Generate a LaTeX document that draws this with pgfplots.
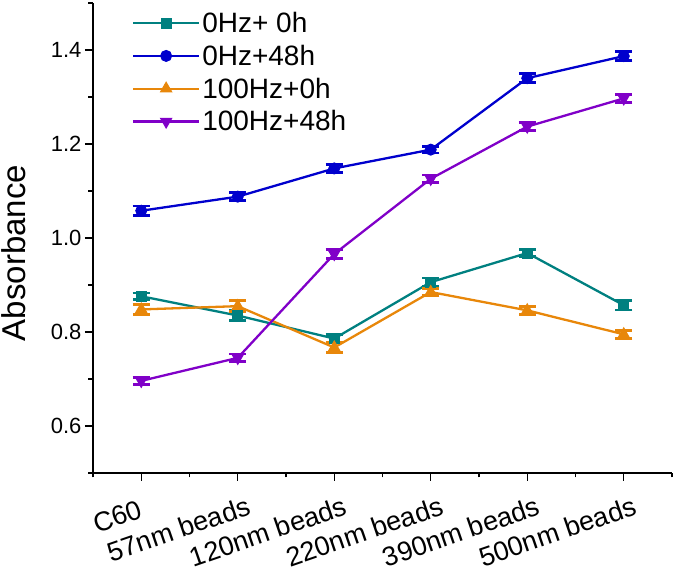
\documentclass[border=0pt]{standalone}
\usepackage{pgfplots}
\pgfplotsset{compat=1.18}
\usepackage{fontspec}
\setmainfont{Liberation Sans}
\usetikzlibrary{calc}
\definecolor{cteal}{RGB}{0,128,128}
\definecolor{cblue}{RGB}{0,0,205}
\definecolor{corange}{RGB}{232,135,10}
\definecolor{cpurple}{RGB}{128,0,200}
\pgfplotsset{errstyle/.style={
  error bars/y dir=both, error bars/y explicit,
  error bars/error bar style={line width=2.2pt, solid},
  error bars/error mark options={rotate=90, mark size=8.5pt, line width=2.8pt}}}
\begin{document}
\begin{tikzpicture}
\begin{axis}[
  name=ax,
  scale only axis,
  width=579pt, height=470pt,
  xmin=-0.5, xmax=5.5, ymin=0.5, ymax=1.5,
  axis x line*=bottom, axis y line*=left,
  axis line style={line width=1.4pt,-},
  tick align=outside,
  major tick length=8pt, minor tick length=4.5pt,
  every tick/.style={line width=1.4pt, black},
  xtick={0,1,2,3,4,5},
  minor xtick={-0.5,0.5,1.5,2.5,3.5,4.5,5.5},
  xticklabels={C60\rule{12pt}{0pt}, 57nm beads, 120nm beads, 220nm beads, 390nm beads, 500nm beads},
  xticklabel style={rotate=19, anchor=north east, font=\fontsize{27}{27}\selectfont, inner sep=0pt, xshift=3pt, yshift=-16pt},
  ytick={0.6,0.8,1.0,1.2,1.4},
  minor ytick={0.5,0.7,0.9,1.1,1.3,1.5},
  yticklabel style={font=\fontsize{22}{22}\selectfont, /pgf/number format/fixed, /pgf/number format/fixed zerofill, /pgf/number format/precision=1, /pgf/number format/assume math mode=true},
  ylabel={Absorbance},
  ylabel style={font=\fontsize{33}{33}\selectfont, at={(axis description cs:-0.117,0.468)}, anchor=base, rotate=0},
  legend style={at={(0.067,0.985)}, anchor=north west, draw=none, fill=none, font=\fontsize{28}{28}\selectfont, row sep=7pt, inner sep=0pt},
  legend cell align=left,
  legend image code/.code={
    \draw[solid] (0pt,0pt) -- (19pt,0pt);
    \draw[solid] (46pt,0pt) -- (63pt,0pt);
    \path (0pt,0pt) -- (66pt,0pt);
    \draw plot[only marks] coordinates {(33pt,0pt)};
  },
  every axis plot/.append style={line width=2.3pt},
]
\addplot[cteal, mark=square*, mark size=5pt, mark options={solid, line width=1pt}, errstyle] coordinates {
  (0,0.876) +- (0,0.007)
  (1,0.835) +- (0,0.010)
  (2,0.786) +- (0,0.008)
  (3,0.906) +- (0,0.009)
  (4,0.968) +- (0,0.007)
  (5,0.857) +- (0,0.010)
};
\addlegendentry{0Hz+ 0h}
\addplot[cblue, mark=*, mark size=5.5pt, mark options={solid, line width=1pt}, errstyle] coordinates {
  (0,1.058) +- (0,0.010)
  (1,1.088) +- (0,0.008)
  (2,1.148) +- (0,0.008)
  (3,1.188) +- (0,0.007)
  (4,1.340) +- (0,0.010)
  (5,1.387) +- (0,0.010)
};
\addlegendentry{0Hz+48h}
\addplot[corange, mark=triangle*, mark size=6.5pt, mark options={solid, line width=1pt}, errstyle] coordinates {
  (0,0.848) +- (0,0.010)
  (1,0.855) +- (0,0.012)
  (2,0.767) +- (0,0.010)
  (3,0.885) +- (0,0.008)
  (4,0.846) +- (0,0.008)
  (5,0.795) +- (0,0.008)
};
\addlegendentry{100Hz+0h}
\addplot[cpurple, mark=triangle*, mark size=6.5pt, mark options={solid, rotate=180, line width=1pt}, errstyle] coordinates {
  (0,0.696) +- (0,0.007)
  (1,0.745) +- (0,0.008)
  (2,0.966) +- (0,0.010)
  (3,1.126) +- (0,0.008)
  (4,1.237) +- (0,0.008)
  (5,1.297) +- (0,0.008)
};
\addlegendentry{100Hz+48h}
\end{axis}
\pgfresetboundingbox
\path ($(ax.south west)+(-93pt,-99pt)$) rectangle ($(ax.north east)+(3pt,3pt)$);
\end{tikzpicture}
\end{document}
